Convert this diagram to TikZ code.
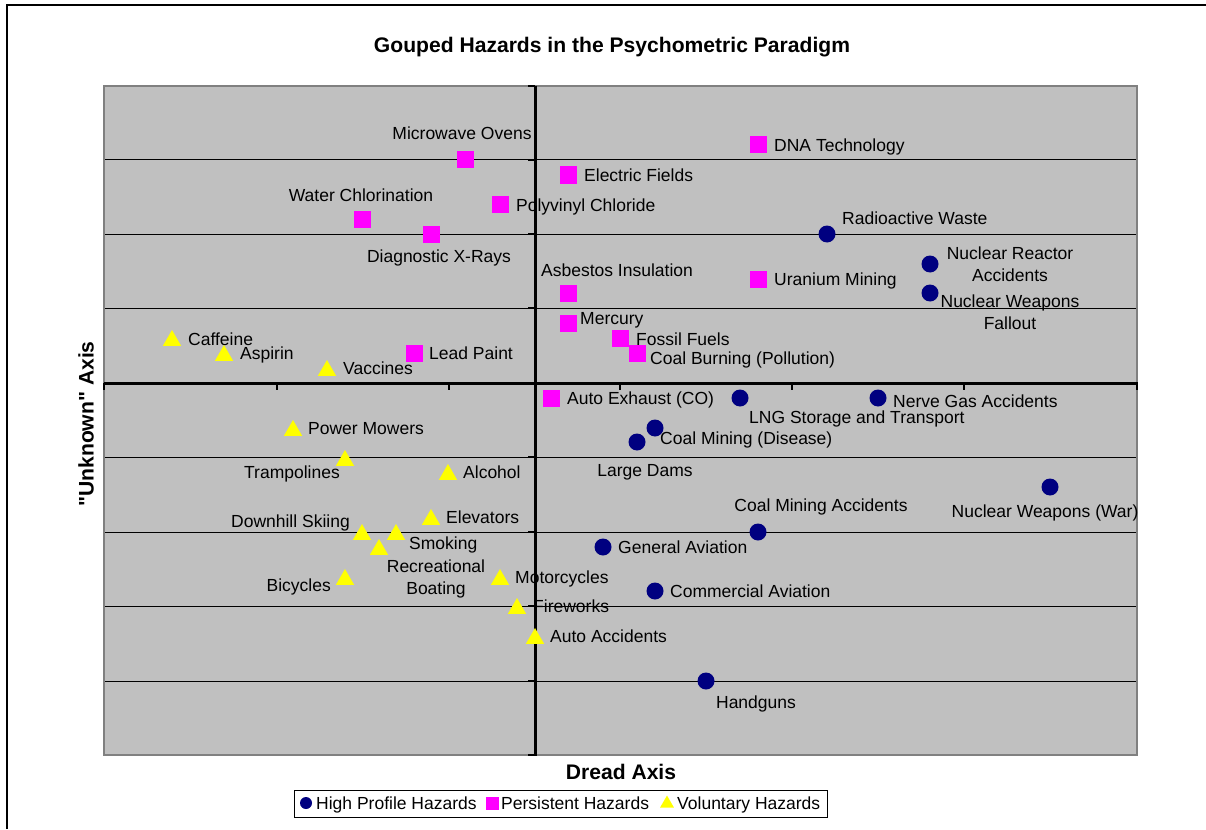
\documentclass[tikz,border=0pt]{standalone}
\usepackage{fontspec}
\setmainfont{Liberation Sans}[Ligatures=TeXOff]
\usetikzlibrary{shapes.geometric}
\definecolor{hpnavy}{HTML}{000080}
\definecolor{psmag}{HTML}{FF00FF}
\definecolor{volyel}{HTML}{FFFF00}
\definecolor{plotbg}{HTML}{C0C0C0}
\definecolor{plotframe}{HTML}{808080}
\newcommand\lblsize{\fontsize{17.5}{21.5}\selectfont}
\newcommand\ttlsize{\fontsize{21.1}{25}\selectfont\bfseries}
\begin{document}
\begin{tikzpicture}[x=1pt,y=1pt,
  hp/.style={circle, fill=hpnavy, minimum size=17pt, inner sep=0pt},
  ps/.style={rectangle, fill=psmag, minimum size=17pt, inner sep=0pt},
  vol/.style={regular polygon, regular polygon sides=3, fill=volyel, minimum size=21pt, inner sep=0pt, yshift=-2.5pt},
  lbl/.style={font=\lblsize, inner sep=0pt, text height=12.6pt, text depth=0pt},
  lbltwo/.style={font=\lblsize, inner sep=0pt, align=center},
  ttl/.style={font=\ttlsize, inner sep=0pt},
  grid/.style={black, line width=1pt},
  axisline/.style={black, line width=3pt},
  tick/.style={black, line width=2pt},
]
\useasboundingbox (0,0) rectangle (1206,-829);
% outer border
\draw[black, line width=2pt] (7,-829) -- (7,-5) -- (1206,-5);
% plot area
\fill[plotbg] (104,-86) rectangle (1137,-755);
\foreach \yy in {160,234,308,457,532,606,681}
  \draw[grid] (104,-\yy) -- (1137,-\yy);
\draw[plotframe, line width=1.5pt] (104,-86) rectangle (1137,-755);
% ticks
\foreach \yy in {86,160,234,308,383,457,532,606,681,755}
  \draw[tick] (528,-\yy) -- (535,-\yy);
\foreach \xx in {104,277,449,620,792,964,1137}
  \draw[tick] (\xx,-383) -- (\xx,-390);
% axes
\draw[axisline] (104,-383) -- (1138,-383);
\draw[axisline] (535,-86) -- (535,-756);

% titles
\node[ttl] (title) at (612,-47) {Gouped Hazards in the Psychometric Paradigm};
\node[ttl] (xlab) at (621,-772) {Dread Axis};
\node[ttl, rotate=90] (ylab) at (86,-424) {"Unknown" Axis};

% Persistent hazards
\node[ps] (sq1) at (465,-160) {};
\node[lbl] (lsq1) at (462,-133) {Microwave Ovens};
\node[ps] (sq2) at (758,-145) {};
\node[lbl, anchor=west] (lsq2) at (774,-145) {DNA Technology};
\node[ps] (sq3) at (568,-175) {};
\node[lbl, anchor=west] (lsq3) at (584,-175) {Electric Fields};
\node[ps] (sq4) at (500,-204) {};
\node[lbl, anchor=west] (lsq4) at (516,-205) {Polyvinyl Chloride};
\node[ps] (sq5) at (362,-219) {};
\node[lbl] (lsq5) at (361,-195) {Water Chlorination};
\node[ps] (sq6) at (431,-234) {};
\node[lbl] (lsq6) at (439,-256) {Diagnostic X-Rays};
\node[ps] (sq7) at (568,-293) {};
\node[lbl] (lsq7) at (617,-270) {Asbestos Insulation};
\node[ps] (sq8) at (758,-279) {};
\node[lbl, anchor=west] (lsq8) at (774,-279) {Uranium Mining};
\node[ps] (sq9) at (568,-323) {};
\node[lbl, anchor=west] (lsq9) at (580,-318) {Mercury};
\node[ps] (sq10) at (620,-338) {};
\node[lbl, anchor=west] (lsq10) at (636,-339) {Fossil Fuels};
\node[ps] (sq11) at (637,-353) {};
\node[lbl, anchor=west] (lsq11) at (650,-358) {Coal Burning (Pollution)};
\node[ps] (sq12) at (414,-353) {};
\node[lbl, anchor=west] (lsq12) at (429,-353) {Lead Paint};
\node[ps] (sq13) at (551,-398) {};
\node[lbl, anchor=west] (lsq13) at (567,-398) {Auto Exhaust (CO)};

% High profile hazards
\node[hp] (c1) at (827,-234) {};
\node[lbl, anchor=west] (lc1) at (842,-218) {Radioactive Waste};
\node[hp] (c2) at (930,-264) {};
\node[lbltwo] (lc2) at (1010,-264) {Nuclear Reactor\\Accidents};
\node[hp] (c3) at (930,-293) {};
\node[lbltwo] (lc3) at (1010,-312) {Nuclear Weapons\\Fallout};
\node[hp] (c4) at (878,-398) {};
\node[lbl, anchor=west] (lc4) at (893,-401) {Nerve Gas Accidents};
\node[hp] (c5) at (740,-398) {};
\node[lbl, anchor=west] (lc5) at (749,-417) {LNG Storage and Transport};
\node[hp] (c6) at (655,-428) {};
\node[lbl, anchor=west] (lc6) at (660,-438) {Coal Mining (Disease)};
\node[hp] (c7) at (637,-442) {};
\node[lbl] (lc7) at (645,-470) {Large Dams};
\node[hp] (c8) at (1050,-487) {};
\node[lbl] (lc8) at (1045,-511) {Nuclear Weapons (War)};
\node[hp] (c9) at (758,-532) {};
\node[lbl] (lc9) at (821,-505) {Coal Mining Accidents};
\node[hp] (c10) at (603,-547) {};
\node[lbl, anchor=west] (lc10) at (618,-547) {General Aviation};
\node[hp] (c11) at (655,-591) {};
\node[lbl, anchor=west] (lc11) at (670,-591) {Commercial Aviation};
\node[hp] (c12) at (706,-681) {};
\node[lbl] (lc12) at (756,-702) {Handguns};

% Voluntary hazards
\node[vol] (t1) at (172,-338) {};
\node[lbl, anchor=west] (lt1) at (188,-339) {Caffeine};
\node[vol] (t2) at (224,-353) {};
\node[lbl, anchor=west] (lt2) at (240,-353) {Aspirin};
\node[vol] (t3) at (327,-368) {};
\node[lbl, anchor=west] (lt3) at (343,-368) {Vaccines};
\node[vol] (t4) at (293,-428) {};
\node[lbl, anchor=west] (lt4) at (308,-428) {Power Mowers};
\node[vol] (t5) at (345,-458) {};
\node[lbl] (lt5) at (292,-472) {Trampolines};
\node[vol] (t6) at (448,-472) {};
\node[lbl, anchor=west] (lt6) at (463,-472) {Alcohol};
\node[vol] (t7) at (431,-517) {};
\node[lbl, anchor=west] (lt7) at (446,-517) {Elevators};
\node[vol] (t8) at (362,-532) {};
\node[lbl, anchor=east] (lt8) at (350,-521) {Downhill Skiing};
\node[vol] (t9) at (396,-532) {};
\node[lbl, anchor=west] (lt9) at (409,-543) {Smoking};
\node[vol] (t10) at (379,-547) {};
\node[lbltwo] (lt10) at (436,-579) {Recreational\\Boating};
\node[vol] (t11) at (345,-577) {};
\node[lbl, anchor=east] (lt11) at (331,-585) {Bicycles};
\node[vol] (t12) at (500,-577) {};
\node[lbl, anchor=west] (lt12) at (515,-577) {Motorcycles};
\node[vol] (t13) at (517,-606) {};
\node[lbl, anchor=west] (lt13) at (533,-606) {Fireworks};
\node[vol] (t14) at (535,-636) {};
\node[lbl, anchor=west] (lt14) at (550,-636) {Auto Accidents};

% legend
\draw[black, line width=1pt, fill=white] (294,-790) rectangle (827,-817);
\node[hp, minimum size=12pt] (lg1) at (306,-803) {};
\node[lbl, anchor=west] (lgt1) at (316,-803) {High Profile Hazards};
\node[ps, minimum size=13pt] (lg2) at (492,-803) {};
\node[lbl, anchor=west] (lgt2) at (501,-803) {Persistent Hazards};
\node[vol, minimum size=16pt, yshift=2pt] (lg3) at (667,-803) {};
\node[lbl, anchor=west] (lgt3) at (677,-803) {Voluntary Hazards};
\end{tikzpicture}
\end{document}
